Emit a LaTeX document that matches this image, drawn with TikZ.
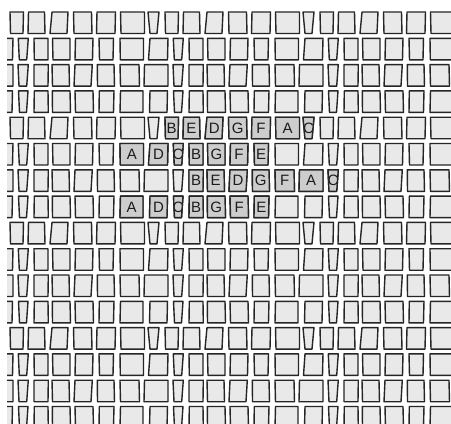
\documentclass[tikz,border=0pt]{standalone}
\usepackage{fontspec}
\setsansfont{Liberation Sans}
\definecolor{tileFill}{HTML}{E9E9E9}
\definecolor{tileMark}{HTML}{CDCDCD}
\definecolor{tileEdge}{HTML}{262626}
\definecolor{glyphInk}{HTML}{1C1C1C}

\newcommand{\rowA}{10/23.5/23/10.5, 28.5/44.5/45/28, 52/68/67/50, 73.5/91.5/92/74, 97/115.5/115/96.5, 120.5/144.5/144.5/121, 148/159/157/150}
\newcommand{\rowB}{150/168/167.5/148.5, 173.3/183.3/181.7/174.3, 189/203/203/189.3, 207.5/225/225/208, 230.5/248/247.5/230, 254/268.5/268/254.5, 275/298.5/298.5/275.3}
\newcommand{\rowC}{144.5/168/168/144, 173/183.3/181.7/174, 189/203.3/203/189, 207/224/224.5/207.5, 230/247.3/246/229, 252.3/269/269.5/252.5, 275/294/294.5/275.5}
\newcommand{\rowD}{150/167.5/167/149.5, 173.5/183/181.5/174.5, 189.3/203/203.3/189, 207.3/225/225.5/207.5, 230/248/248.5/230.5, 254.3/269/268.5/254, 275.5/298/298/275}

\newcommand{\tilerow}[2]{%
  \foreach \k in {-1,0,1,2}{%
    \foreach \xa/\xb/\xc/\xd in #2{%
      \draw[plainTile] ({\xa+155*\k},#1) -- ({\xb+155*\k},#1) -- ({\xc+155*\k},{#1+21.5}) -- ({\xd+155*\k},{#1+21.5}) -- cycle;
    }}}
\newcommand{\letterbox}[7]{%
  \begin{scope}
    \clip (#3,#2) -- (#4,#2) -- (#5,{#2+21.5}) -- (#6,{#2+21.5}) -- cycle;
    \fill[tileMark] (#3,#2) -- (#4,#2) -- (#5,{#2+21.5}) -- (#6,{#2+21.5}) -- cycle;
    \node[glyph] (#1) at ({(#3+#4+#5+#6)/4},{#2+10.75}) {#7};
  \end{scope}
  \draw[letterTile] (#3,#2) -- (#4,#2) -- (#5,{#2+21.5}) -- (#6,{#2+21.5}) -- cycle;}

\begin{document}
\begin{tikzpicture}[x=1pt,y=-1pt,
    plainTile/.style={draw=tileEdge, fill=tileFill, line width=1.4pt, line join=round},
    letterTile/.style={draw=tileEdge, line width=1.4pt, line join=round},
    glyph/.style={text=glyphInk, font=\sffamily\fontsize{15pt}{15pt}\selectfont, inner sep=0pt}
  ]
  \useasboundingbox (0,0) rectangle (451,424);
  \fill[white] (0,0) rectangle (451,424);
  \clip (7,0) rectangle (451,424);

  \tilerow{12}{\rowA}
  \tilerow{38.3}{\rowB}
  \tilerow{64.6}{\rowC}
  \tilerow{90.9}{\rowD}
  \tilerow{117.2}{\rowA}
  \tilerow{143.5}{\rowB}
  \tilerow{169.8}{\rowC}
  \tilerow{196.1}{\rowD}
  \tilerow{222.4}{\rowA}
  \tilerow{248.7}{\rowB}
  \tilerow{275}{\rowC}
  \tilerow{301.3}{\rowD}
  \tilerow{327.6}{\rowA}
  \tilerow{353.9}{\rowB}
  \tilerow{380.2}{\rowC}
  \tilerow{406.5}{\rowD}

  \letterbox{b5}{117.2}{165}{178.5}{178}{165.5}{B}
  \letterbox{e5}{117.2}{183.5}{199.5}{200}{183}{E}
  \letterbox{d5}{117.2}{207}{223}{222}{205}{D}
  \letterbox{g5}{117.2}{228.5}{246.5}{247}{229}{G}
  \letterbox{f5}{117.2}{252}{270.5}{270}{251.5}{F}
  \letterbox{a5}{117.2}{275.5}{299.5}{299.5}{276}{A}
  \letterbox{c5}{117.2}{303}{314}{312}{305}{C}

  \letterbox{a6}{143.5}{120}{143.5}{143.5}{120.3}{A}
  \letterbox{d6}{143.5}{150}{168}{167.5}{148.5}{D}
  \letterbox{c6}{143.5}{173.3}{183.3}{181.7}{174.3}{C}
  \letterbox{b6}{143.5}{189}{203}{203}{189.3}{B}
  \letterbox{g6}{143.5}{207.5}{225}{225}{208}{G}
  \letterbox{f6}{143.5}{230.5}{248}{247.5}{230}{F}
  \letterbox{e6}{143.5}{254}{268.5}{268}{254.5}{E}

  \letterbox{b7}{169.8}{189}{203.3}{203}{189}{B}
  \letterbox{e7}{169.8}{207}{224}{224.5}{207.5}{E}
  \letterbox{d7}{169.8}{230}{247.3}{246}{229}{D}
  \letterbox{g7}{169.8}{252.3}{269}{269.5}{252.5}{G}
  \letterbox{f7}{169.8}{275}{294}{294.5}{275.5}{F}
  \letterbox{a7}{169.8}{299.5}{323}{323}{299}{A}
  \letterbox{c7}{169.8}{328}{338.3}{336.7}{329}{C}

  \letterbox{a8}{196.1}{120.5}{143}{143}{120}{A}
  \letterbox{d8}{196.1}{150}{167.5}{167}{149.5}{D}
  \letterbox{c8}{196.1}{173.5}{183}{181.5}{174.5}{C}
  \letterbox{b8}{196.1}{189.3}{203}{203.3}{189}{B}
  \letterbox{g8}{196.1}{207.3}{225}{225.5}{207.5}{G}
  \letterbox{f8}{196.1}{230}{248}{248.5}{230.5}{F}
  \letterbox{e8}{196.1}{254.3}{269}{268.5}{254}{E}
\end{tikzpicture}
\end{document}
